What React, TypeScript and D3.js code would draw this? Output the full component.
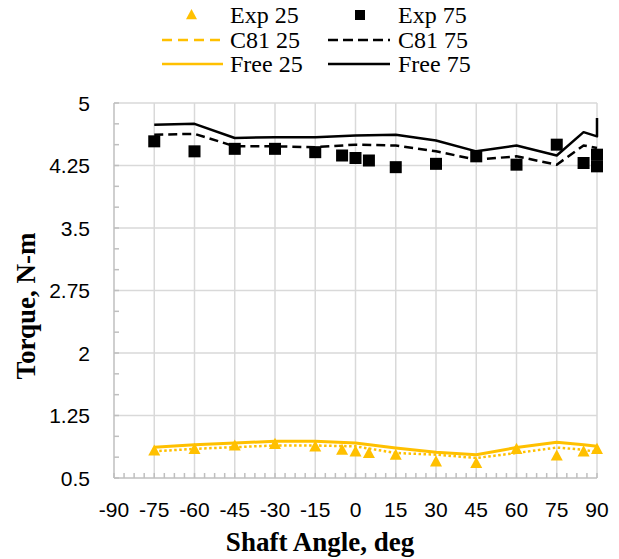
import React, { useRef, useEffect } from 'react';
import * as d3 from 'd3';

// angles (deg) and torque values (N-m)
const expAngles = [-75, -60, -45, -30, -15, -5, 0, 5, 15, 30, 45, 60, 75, 85, 90];
const exp25 = [0.83, 0.85, 0.89, 0.91, 0.88, 0.84, 0.82, 0.80, 0.78, 0.70, 0.68, 0.85, 0.77, 0.82, 0.85];
const exp75Angles = [-75, -60, -45, -30, -15, -5, 0, 5, 15, 30, 45, 60, 75, 85, 90, 90];
const exp75 = [4.54, 4.42, 4.45, 4.45, 4.41, 4.37, 4.34, 4.31, 4.23, 4.27, 4.36, 4.26, 4.50, 4.28, 4.38, 4.24];

const simAngles = [-75, -60, -45, -30, -15, 0, 15, 30, 45, 60, 75, 85, 90];
const free25 = [0.87, 0.90, 0.92, 0.94, 0.94, 0.92, 0.86, 0.81, 0.78, 0.865, 0.93, 0.90, 0.88];
const c81_25 = [0.82, 0.85, 0.87, 0.89, 0.89, 0.88, 0.80, 0.78, 0.74, 0.80, 0.865, 0.84, 0.81];
const c81_75 = [4.62, 4.63, 4.48, 4.48, 4.47, 4.50, 4.49, 4.42, 4.32, 4.36, 4.26, 4.49, 4.46];
const free75Angles = [-75, -60, -45, -30, -15, 0, 15, 30, 45, 60, 75, 85, 90, 90];
const free75 = [4.74, 4.75, 4.58, 4.59, 4.59, 4.61, 4.62, 4.55, 4.42, 4.49, 4.37, 4.65, 4.60, 4.82];

const xTicks = [-90, -75, -60, -45, -30, -15, 0, 15, 30, 45, 60, 75, 90];
const yTicks = [0.5, 1.25, 2, 2.75, 3.5, 4.25, 5];

const ORANGE = '#FFC000';
const GRID = '#d9d9d9';
const AXIS = '#bfbfbf';
const SERIF = '"Liberation Serif", "Times New Roman", serif';
const SANS = '"Liberation Sans", Arial, sans-serif';

const App = () => {
  const svgRef = useRef(null);

  useEffect(() => {
    const width = 619;
    const height = 559;
    const svg = d3.select(svgRef.current);
    svg.selectAll('*').remove();
    svg.attr('width', width).attr('height', height);

    const x = d3.scaleLinear().domain([-90, 90]).range([114, 597]);
    const y = d3.scaleLinear().domain([0.5, 5]).range([478, 103]);

    // gridlines
    const grid = svg.append('g');
    grid.selectAll('.vg').data(xTicks.slice(1)).enter().append('line')
      .attr('x1', d => x(d)).attr('x2', d => x(d))
      .attr('y1', y(0.5)).attr('y2', y(5))
      .attr('stroke', GRID).attr('stroke-width', 1.5);
    grid.selectAll('.hg').data(yTicks.slice(1)).enter().append('line')
      .attr('x1', x(-90)).attr('x2', x(90))
      .attr('y1', d => y(d)).attr('y2', d => y(d))
      .attr('stroke', GRID).attr('stroke-width', 1.5);

    // axes lines and minor ticks (inside)
    const ax = svg.append('g');
    ax.append('line').attr('x1', x(-90)).attr('x2', x(90)).attr('y1', y(0.5)).attr('y2', y(0.5))
      .attr('stroke', AXIS).attr('stroke-width', 1.5);
    ax.append('line').attr('x1', x(-90)).attr('x2', x(-90)).attr('y1', y(0.5)).attr('y2', y(5))
      .attr('stroke', AXIS).attr('stroke-width', 1.5);
    ax.selectAll('.xm').data(d3.range(-90, 90.01, 3.75)).enter().append('line')
      .attr('x1', d => x(d)).attr('x2', d => x(d))
      .attr('y1', y(0.5)).attr('y2', y(0.5) - 5)
      .attr('stroke', AXIS).attr('stroke-width', 1.5);
    ax.selectAll('.ym').data(d3.range(0.5, 5.01, 0.25)).enter().append('line')
      .attr('x1', x(-90)).attr('x2', x(-90) + 5)
      .attr('y1', d => y(d)).attr('y2', d => y(d))
      .attr('stroke', AXIS).attr('stroke-width', 1.5);

    // tick labels
    ax.selectAll('.xl').data(xTicks).enter().append('text')
      .attr('x', d => x(d)).attr('y', 517)
      .attr('text-anchor', 'middle')
      .style('font-family', SANS).style('font-size', '21px').attr('fill', '#000')
      .text(d => `${d}`);
    ax.selectAll('.yl').data(yTicks).enter().append('text')
      .attr('x', 90).attr('y', d => y(d) + 7.5)
      .attr('text-anchor', 'end')
      .style('font-family', SANS).style('font-size', '21px').attr('fill', '#000')
      .text(d => `${d}`);

    // axis titles
    svg.append('text')
      .attr('x', 320).attr('y', 551)
      .attr('text-anchor', 'middle')
      .style('font-family', SERIF).style('font-size', '27px').style('font-weight', 'bold')
      .text('Shaft Angle, deg');
    svg.append('text')
      .attr('transform', `translate(35,306) rotate(-90)`)
      .attr('text-anchor', 'middle')
      .style('font-family', SERIF).style('font-size', '27px').style('font-weight', 'bold')
      .text('Torque, N-m');

    const line = d3.line<[number, number]>().x(d => x(d[0])).y(d => y(d[1]));
    const zip = (a: number[], b: number[]) => a.map((v, i) => [v, b[i]] as [number, number]);

    const series = [
      { pts: zip(simAngles, c81_25), color: ORANGE, dash: '2.5,2.5', w: 2.5 },
      { pts: zip(simAngles, free25), color: ORANGE, dash: null, w: 3 },
      { pts: zip(simAngles, c81_75), color: '#000', dash: '9,5', w: 2.5 },
      { pts: zip(free75Angles, free75), color: '#000', dash: null, w: 2.5 },
    ];
    series.forEach(s => {
      svg.append('path')
        .attr('d', line(s.pts))
        .attr('fill', 'none')
        .attr('stroke', s.color)
        .attr('stroke-width', s.w)
        .attr('stroke-dasharray', s.dash)
        .attr('stroke-linejoin', 'round');
    });

    const tri = (cx: number, cy: number, r: number) =>
      `M${cx},${cy - r}L${cx + r},${cy + r * 0.85}L${cx - r},${cy + r * 0.85}Z`;

    svg.selectAll('.tri').data(zip(expAngles, exp25)).enter().append('path')
      .attr('d', d => tri(x(d[0]), y(d[1]), 6))
      .attr('fill', ORANGE);
    svg.selectAll('.sq').data(zip(exp75Angles, exp75)).enter().append('rect')
      .attr('x', d => x(d[0]) - 6).attr('y', d => y(d[1]) - 6)
      .attr('width', 12).attr('height', 12)
      .attr('fill', '#000');

    // legend
    const lg = svg.append('g').style('font-family', SERIF).style('font-size', '24px');
    const rows = [23, 47.5, 72];
    lg.append('path').attr('d', tri(191.5, 14.5, 5.5)).attr('fill', ORANGE);
    lg.append('rect').attr('x', 355).attr('y', 10).attr('width', 10).attr('height', 10).attr('fill', '#000');
    lg.append('line').attr('x1', 162).attr('x2', 223).attr('y1', 40).attr('y2', 40)
      .attr('stroke', ORANGE).attr('stroke-width', 2.5).attr('stroke-dasharray', '10,6');
    lg.append('line').attr('x1', 328).attr('x2', 390).attr('y1', 40).attr('y2', 40)
      .attr('stroke', '#000').attr('stroke-width', 2.5).attr('stroke-dasharray', '10,5');
    lg.append('line').attr('x1', 162).attr('x2', 223).attr('y1', 64).attr('y2', 64)
      .attr('stroke', ORANGE).attr('stroke-width', 2.5);
    lg.append('line').attr('x1', 328).attr('x2', 390).attr('y1', 64).attr('y2', 64)
      .attr('stroke', '#000').attr('stroke-width', 2.5);
    const labelsL = ['Exp 25', 'C81 25', 'Free 25'];
    const labelsR = ['Exp 75', 'C81 75', 'Free 75'];
    labelsL.forEach((t, i) => lg.append('text').attr('x', 230).attr('y', rows[i]).text(t));
    labelsR.forEach((t, i) => lg.append('text').attr('x', 398).attr('y', rows[i]).text(t));
  }, []);

  return (
    <svg ref={svgRef} style={{ position: 'absolute', left: 0, top: 0, background: '#fff' }}></svg>
  );
};

export default App;
